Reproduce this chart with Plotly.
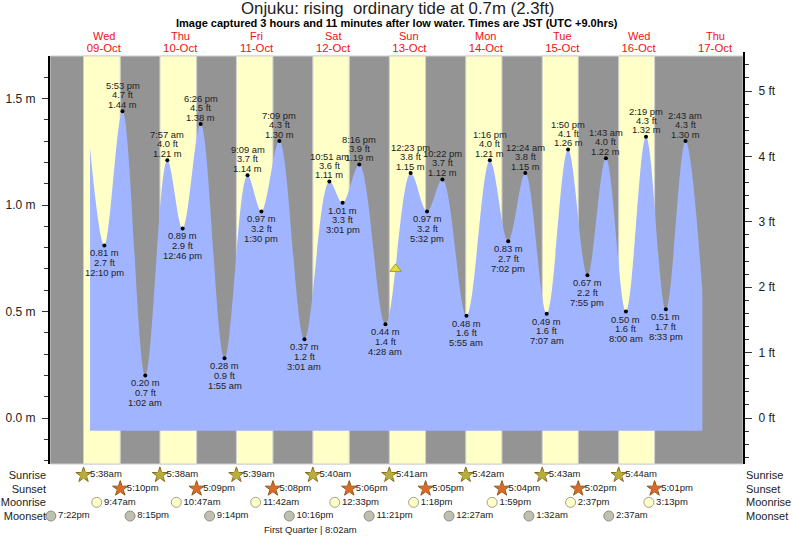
import plotly.graph_objects as go
from datetime import datetime

# ---------- data ----------
tide_start = ("2024-10-09 07:40", 1.27)
tide_end = ("2024-10-17 08:00", 0.60)
ext_date = ["10-09","10-09","10-10","10-10","10-10","10-10","10-11","10-11","10-11","10-11",
            "10-12","10-12","10-12","10-12","10-13","10-13","10-13","10-13","10-14","10-14",
            "10-14","10-15","10-15","10-15","10-15","10-16","10-16","10-16","10-16","10-17"]
ext_time = ["12:10 pm","5:53 pm","1:02 am","7:57 am","12:46 pm","6:26 pm","1:55 am","9:09 am","1:30 pm","7:09 pm",
            "3:01 am","10:51 am","3:01 pm","8:16 pm","4:28 am","12:23 pm","5:32 pm","10:22 pm","5:55 am","1:16 pm",
            "7:02 pm","12:24 am","7:07 am","1:50 pm","7:55 pm","1:43 am","8:00 am","2:19 pm","8:33 pm","2:43 am"]
ext_m = [0.81,1.44,0.20,1.21,0.89,1.38,0.28,1.14,0.97,1.30,
         0.37,1.11,1.01,1.19,0.44,1.15,0.97,1.12,0.48,1.21,
         0.83,1.15,0.49,1.26,0.67,1.22,0.50,1.32,0.51,1.30]
ext_ft = [2.7,4.7,0.7,4.0,2.9,4.5,0.9,3.7,3.2,4.3,
          1.2,3.6,3.3,3.9,1.4,3.8,3.2,3.7,1.6,4.0,
          2.7,3.8,1.6,4.1,2.2,4.0,1.6,4.3,1.7,4.3]
ext_kind = ["L","H","L","H","L","H","L","H","L","H",
            "L","H","L","H","L","H","L","H","L","H",
            "L","H","L","H","L","H","L","H","L","H"]

now_time = "2024-10-13 07:39"
now_m = 0.70
base_m = -0.06

day_dates = ["10-09","10-10","10-11","10-12","10-13","10-14","10-15","10-16","10-17"]
day_names = ["Wed","Thu","Fri","Sat","Sun","Mon","Tue","Wed","Thu"]
day_labels = ["09-Oct","10-Oct","11-Oct","12-Oct","13-Oct","14-Oct","15-Oct","16-Oct","17-Oct"]

sun_dates = ["10-09","10-10","10-11","10-12","10-13","10-14","10-15","10-16"]
sunrise = ["5:38am","5:38am","5:39am","5:40am","5:41am","5:42am","5:43am","5:44am"]
sunset = ["5:10pm","5:09pm","5:08pm","5:06pm","5:05pm","5:04pm","5:02pm","5:01pm"]
moonrise_dates = sun_dates
moonrise = ["9:47am","10:47am","11:42am","12:33pm","1:18pm","1:59pm","2:37pm","3:13pm"]
moonset_dates = ["10-08","10-09","10-10","10-11","10-12","10-14","10-15","10-16"]
moonset = ["7:22pm","8:15pm","9:14pm","10:16pm","11:21pm","12:27am","1:32am","2:37am"]
phase_date, phase_time, phase_name = "10-12", "8:02am", "First Quarter"

row_names = ["Sunrise","Sunset","Moonrise","Moonset"]
m_ticks = [0.0,0.5,1.0,1.5]
ft_ticks = [0,1,2,3,4,5]

# ---------- helpers ----------
def ts(d, t):
    t = t.replace(" ","").upper()
    return datetime.strptime("2024-"+d+" "+t, "%Y-%m-%d %I:%M%p").strftime("%Y-%m-%d %H:%M")

W, H = 793, 537
TOP, PLOT_T, PLOT_B, L, R = 52, 56, 464, 50, 743
AH = H - TOP
def py(p):
    return (H - p) / AH

FONT = "Liberation Sans"
GRAY, YEL, BLUE = "#949494", "#FFFFC8", "#A0B4FF"
EDGE = "#CFCFCF"
TXT = "#222222"
x_range = ["2024-10-08 19:06", "2024-10-17 20:47"]

ext_x = [ts(d,t) for d,t in zip(ext_date, ext_time)]
rise_x = [ts(d,t) for d,t in zip(sun_dates, sunrise)]
set_x = [ts(d,t) for d,t in zip(sun_dates, sunset)]
mr_x = [ts(d,t) for d,t in zip(moonrise_dates, moonrise)]
ms_x = [ts(d,t) for d,t in zip(moonset_dates, moonset)]

fig = go.Figure()

# tide area
fig.add_trace(go.Scatter(x=[tide_start[0], tide_end[0]], y=[base_m, base_m], mode="lines",
                         line=dict(width=0), showlegend=False, hoverinfo="skip"))
fig.add_trace(go.Scatter(x=[tide_start[0]]+ext_x+[tide_end[0]], y=[tide_start[1]]+ext_m+[tide_end[1]],
                         mode="lines", line=dict(width=0, shape="spline", smoothing=1.0, color=BLUE),
                         fill="tonexty", fillcolor=BLUE, showlegend=False))
# extremes
fig.add_trace(go.Scatter(x=ext_x, y=ext_m, mode="markers", marker=dict(color="black", size=4), showlegend=False))
# now marker
fig.add_trace(go.Scatter(x=[now_time], y=[now_m], mode="markers", showlegend=False,
                         marker=dict(symbol="triangle-up", size=10, color="#E6DC3C", line=dict(color="#A89B20", width=1))))
# right axis carrier
fig.add_trace(go.Scatter(x=[x_range[0]], y=[0], yaxis="y2", mode="markers", marker=dict(opacity=0),
                         showlegend=False, hoverinfo="skip"))

# rows
def row(xs, labels, name, sym, size, fill, edge):
    if sym == "star":
        fig.add_trace(go.Scatter(x=xs, y=[name]*len(xs), yaxis="y3", mode="markers", hoverinfo="skip",
                                 marker=dict(symbol=sym, size=size, color=fill, line=dict(color=edge, width=1)),
                                 showlegend=False, cliponaxis=False))
        fig.add_trace(go.Scatter(x=xs, y=[name]*len(xs), yaxis="y3", mode="markers+text", text=labels,
                                 textposition="middle right", textfont=dict(family=FONT, size=9.5, color=TXT),
                                 marker=dict(symbol="pentagon", size=size*0.78, color=fill, line=dict(width=0)),
                                 showlegend=False, cliponaxis=False))
    else:
        fig.add_trace(go.Scatter(x=xs, y=[name]*len(xs), yaxis="y3", mode="markers+text", text=labels,
                                 textposition="middle right", textfont=dict(family=FONT, size=9.5, color=TXT),
                                 marker=dict(symbol=sym, size=size, color=fill, line=dict(color=edge, width=1)),
                                 showlegend=False, cliponaxis=False))
row(rise_x, sunrise, "Sunrise", "star", 11.5, "#B5AD3C", "#8B6A1E")
row(set_x, sunset, "Sunset", "star", 11.5, "#D96B2A", "#8B5A1E")
row(mr_x, moonrise, "Moonrise", "circle", 10, "#FFFFC8", "#A0A090")
row(ms_x, moonset, "Moonset", "circle", 10, "#C0C0B0", "#8E8E84")
fig.add_trace(go.Scatter(x=[x_range[0]], y=["Sunrise"], yaxis="y4", mode="markers", marker=dict(opacity=0),
                         showlegend=False, hoverinfo="skip"))

# background bands
shapes = [dict(type="rect", xref="x domain", yref="y domain", x0=0, x1=1, y0=0, y1=1,
               fillcolor=GRAY, line=dict(color=EDGE, width=1), layer="below")]
for a, b in zip(rise_x, set_x):
    shapes.append(dict(type="rect", xref="x", yref="y domain", x0=a, x1=b, y0=0, y1=1,
                       fillcolor=YEL, line=dict(color=EDGE, width=1), layer="below"))

# labels
ann = []
def note(x, y, text, size=9.4, yshift=0, color=TXT, **kw):
    ann.append(dict(x=x, y=y, text=text, showarrow=False, yshift=yshift, borderpad=0,
                    font=dict(family=FONT, size=size, color=color), **kw))
for x, m, ft, t, k in zip(ext_x, ext_m, ext_ft, ext_time, ext_kind):
    lines = [f"{m:.2f} m", f"{ft:.1f} ft", t]
    shifts = [7, 16.5, 25.5] if k == "H" else [-7.5, -17, -27]
    for s, tx in zip(shifts, lines):
        note(x, m, tx, yshift=s, xref="x", yref="y", xanchor="center", yanchor="middle")
for d, n in zip(day_dates, day_names):
    note(ts(d, "12:00pm"), py(36), n, size=11, color="#F01010", xref="x", yref="paper", xanchor="center", yanchor="middle")
note(ts(phase_date, phase_time), py(529), f"{phase_name} | {phase_time}", size=9.5, xshift=-10,
     xref="x", yref="paper", xanchor="center", yanchor="middle")
ann.append(dict(x=(396.5-L)/(R-L), y=py(23.5), xref="paper", yref="paper", showarrow=False, xanchor="center", yanchor="middle",
                text="<b>Image captured 3 hours and 11 minutes after low water. Times are JST (UTC +9.0hrs)</b>",
                font=dict(family=FONT, size=11, color="black")))
ann.append(dict(x=(397.5-L)/(R-L), y=py(8), xref="paper", yref="paper", showarrow=False, xanchor="center", yanchor="middle",
                text="Onjuku: rising  ordinary tide at 0.7m (2.3ft)",
                font=dict(family=FONT, size=16.8, color="#222222")))

y_dom = [(H-PLOT_B)/AH, (H-PLOT_T)/AH]
m_scale, ft_scale = 213.0, 65.4
ZERO = 418.0
axis = dict(showgrid=False, zeroline=False, showline=True, linecolor="black", linewidth=2, ticks="outside",
            tickcolor="#333333", tickfont=dict(family=FONT, size=12, color=TXT))
fig.update_layout(
    width=W, height=H, margin=dict(l=L, r=W-R, t=TOP, b=0, pad=0),
    paper_bgcolor="white", plot_bgcolor="rgba(0,0,0,0)", shapes=shapes, annotations=ann, showlegend=False,
    xaxis=dict(type="date", range=x_range, side="top", anchor="y", showgrid=False, zeroline=False, showline=False,
               tickmode="array", tickvals=[ts(d, "12:00pm") for d in day_dates], ticktext=day_labels, ticks="",
               tickfont=dict(family=FONT, size=11.4, color="#F01010"), ticklabelstandoff=1),
    yaxis=dict(domain=y_dom, range=[(ZERO-PLOT_B)/m_scale, (ZERO-PLOT_T)/m_scale], tickmode="array", tickvals=m_ticks,
               ticktext=[f"{v:.1f} m" for v in m_ticks], ticklen=6, tickwidth=1, ticklabelstandoff=4,
               minor=dict(dtick=0.1, ticks="outside", ticklen=4, tickcolor="#333333", tickwidth=1), anchor="x", **axis),
    yaxis2=dict(domain=[y_dom[0], 1], side="right", anchor="x",
                range=[(ZERO-PLOT_B)/ft_scale, (ZERO-TOP)/ft_scale], tickmode="array", tickvals=ft_ticks,
                ticktext=[f"{v} ft" for v in ft_ticks], ticklen=7, tickwidth=1, ticklabelstandoff=4,
                minor=dict(dtick=0.2, ticks="outside", ticklen=4, tickcolor="#333333", tickwidth=1), **axis),
    yaxis3=dict(domain=[0, y_dom[0]], type="category", categoryorder="array", categoryarray=row_names, anchor="x",
                range=[(H-475)/13.67, -(475-PLOT_B)/13.67], showgrid=False, zeroline=False, showline=False, ticks="",
                tickfont=dict(family=FONT, size=11, color=TXT), ticklabelstandoff=3),
    yaxis4=dict(domain=[0, y_dom[0]], type="category", categoryorder="array", categoryarray=row_names, anchor="x",
                overlaying="y3", side="right",
                range=[(H-475)/13.67, -(475-PLOT_B)/13.67], showgrid=False, zeroline=False, showline=False, ticks="",
                tickfont=dict(family=FONT, size=11, color=TXT), ticklabelstandoff=2),
)
fig.write_html("out.html", config=dict(displayModeBar=False),
               post_script="document.documentElement.style.margin='0';document.body.style.margin='0';document.body.style.overflow='hidden';")
